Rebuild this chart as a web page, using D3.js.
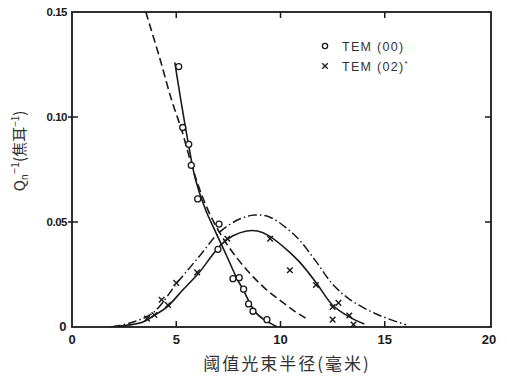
<!DOCTYPE html>
<html><head><meta charset="utf-8">
<script src="https://cdn.jsdelivr.net/npm/d3@7"></script>
<style>
html,body{margin:0;padding:0;background:#fff;}
svg{display:block;}
</style></head>
<body><svg id="c" width="507" height="379"></svg>
<script>
// ---- data ----
const xTicks = [0, 5, 10, 15, 20];
const xTickLabels = ["0", "5", "10", "15", "20"];
const yTicks = [0, 0.05, 0.10, 0.15];
const yTickLabels = ["0", "0.05", "0.10", "0.15"];
const xLabel = "阈值光束半径(毫米)";
const legendLabels = ["TEM (00)", "TEM (02)"];

// TEM(00) measured points (circles)
const tem00X = [5.12, 5.31, 5.6, 5.72, 6.03, 7.05, 7.0, 7.72, 8.02, 8.23, 8.47, 8.68, 9.35];
const tem00Y = [0.124, 0.095, 0.087, 0.077, 0.061, 0.049, 0.037, 0.023, 0.0235, 0.018, 0.011, 0.0075, 0.0035];
// TEM(02) measured points (crosses)
const tem02X = [3.6, 3.95, 4.3, 4.6, 5.0, 6.0, 7.45, 9.5, 10.45, 11.7, 12.5, 12.78, 12.5, 13.3, 13.5];
const tem02Y = [0.004, 0.0057, 0.013, 0.0105, 0.021, 0.026, 0.042, 0.042, 0.027, 0.020, 0.0095, 0.0115, 0.0035, 0.0055, 0.0012];

// fitted curve for TEM(00) (solid)
const fit00X = [4.93, 5.22, 5.55, 5.93, 6.41, 6.89, 7.40, 7.90, 8.25, 8.55, 8.85, 9.30, 9.86];
const fit00Y = [0.126, 0.108, 0.089, 0.070, 0.0557, 0.0452, 0.0343, 0.0233, 0.0170, 0.0110, 0.0065, 0.0030, 0.0];
// theory curve for TEM(00) (dashed)
const th00X = [3.54, 4.21, 4.78, 5.26, 5.74, 6.22, 6.70, 7.18, 7.80, 8.52, 9.23, 9.95, 10.67, 11.2];
const th00Y = [0.150, 0.128, 0.108, 0.0938, 0.0771, 0.0629, 0.0519, 0.0433, 0.0343, 0.0257, 0.0186, 0.0129, 0.0076, 0.0043];
// fitted curve for TEM(02) (solid)
const fit02X = [1.82, 2.78, 3.40, 3.97, 4.55, 5.31, 6.12, 6.70, 7.18, 7.70, 8.37, 8.90, 9.47, 10.43, 10.91, 11.72, 12.49, 13.30, 14.02];
const fit02Y = [0.0, 0.001, 0.0024, 0.0057, 0.0095, 0.0176, 0.0262, 0.0338, 0.0395, 0.0433, 0.0457, 0.0457, 0.0433, 0.0357, 0.031, 0.021, 0.0105, 0.0048, 0.0014];
// theory curve for TEM(02) (dash-dot)
const th02X = [1.91, 2.78, 3.88, 5.07, 6.12, 7.08, 8.04, 8.76, 9.47, 10.29, 10.91, 11.72, 12.49, 13.30, 14.59, 16.03];
const th02Y = [0.0, 0.0019, 0.0067, 0.0214, 0.0338, 0.0452, 0.0514, 0.0533, 0.0524, 0.0471, 0.0414, 0.031, 0.0205, 0.0133, 0.0062, 0.001];

// ---- drawing ----
const ink = "#1a1a1a";
const svg = d3.select("#c");
const X0 = 72, X1 = 491, Y0 = 327, Y1 = 12;
const x = d3.scaleLinear().domain([0, 20]).range([X0, 489]);
const y = d3.scaleLinear().domain([0, 0.15]).range([Y0, Y1]);

// frame
svg.append("rect").attr("x", X0).attr("y", Y1).attr("width", X1 - X0).attr("height", Y0 - Y1)
  .attr("fill", "none").attr("stroke", ink).attr("stroke-width", 1.8);

// inner ticks
const tk = 6;
const inner = xTicks.filter(v => v > 0 && v < 20);
svg.append("g").selectAll("line").data(inner).join("line")
  .attr("x1", d => x(d)).attr("x2", d => x(d)).attr("y1", Y0).attr("y2", Y0 - tk)
  .attr("stroke", ink).attr("stroke-width", 1.5);
svg.append("g").selectAll("line").data(inner).join("line")
  .attr("x1", d => x(d)).attr("x2", d => x(d)).attr("y1", Y1).attr("y2", Y1 + tk)
  .attr("stroke", ink).attr("stroke-width", 1.5);
const innerY = yTicks.filter(v => v > 0 && v < 0.15);
svg.append("g").selectAll("line").data(innerY).join("line")
  .attr("x1", X0 - 4).attr("x2", X0 + tk).attr("y1", d => y(d)).attr("y2", d => y(d))
  .attr("stroke", ink).attr("stroke-width", 1.5);
svg.append("g").selectAll("line").data(innerY).join("line")
  .attr("x1", X1).attr("x2", X1 - tk).attr("y1", d => y(d)).attr("y2", d => y(d))
  .attr("stroke", ink).attr("stroke-width", 1.5);

// tick labels
const tf = "'Liberation Sans', Arial, sans-serif";
svg.append("g").selectAll("text").data(xTicks).join("text")
  .attr("x", d => x(d)).attr("y", Y0 + 17)
  .attr("text-anchor", "middle").attr("font-family", tf).attr("font-weight", "bold")
  .attr("font-size", 13).attr("fill", ink)
  .text((d, i) => xTickLabels[i]);
svg.append("g").selectAll("text").data(yTicks).join("text")
  .attr("x", (d) => d === 0 ? X0 - 6 : X0 - 5).attr("y", d => y(d) + 4)
  .attr("text-anchor", "end").attr("font-family", tf).attr("font-weight", "bold")
  .attr("font-size", d => d === 0 ? 13 : 11.5).attr("letter-spacing", -0.5).attr("fill", ink)
  .text((d, i) => yTickLabels[i]);

// axis titles
svg.append("text").attr("x", 287).attr("y", 370).attr("text-anchor", "middle")
  .attr("font-family", "'Noto Sans CJK SC', sans-serif").attr("font-size", 17)
  .attr("letter-spacing", 2).attr("fill", "#333").text(xLabel);
const yl = svg.append("text").attr("transform", "translate(25,151) rotate(-90)")
  .attr("text-anchor", "middle").attr("fill", "#333").attr("font-size", 15)
  .attr("font-family", "'Noto Sans CJK SC', sans-serif");
yl.append("tspan").text("Q");
yl.append("tspan").attr("font-size", 10).attr("dy", 3).text("n");
yl.append("tspan").attr("font-size", 11).attr("dy", -9).text("−1");
yl.append("tspan").attr("dy", 6).text("(焦耳");
yl.append("tspan").attr("font-size", 10).attr("dy", -6).text("−1");
yl.append("tspan").attr("dy", 6).text(")");

// curves
const line = d3.line().x(d => x(d[0])).y(d => y(d[1])).curve(d3.curveCatmullRom.alpha(0.5));
const zip = (a, b) => a.map((v, i) => [v, b[i]]);
svg.append("clipPath").attr("id", "pc").append("rect")
  .attr("x", X0).attr("y", Y1).attr("width", X1 - X0).attr("height", Y0 - Y1);
const g = svg.append("g").attr("clip-path", "url(#pc)");
g.append("path").attr("d", line(zip(fit00X, fit00Y))).attr("fill", "none")
  .attr("stroke", ink).attr("stroke-width", 1.6);
g.append("path").attr("d", line(zip(th00X, th00Y))).attr("fill", "none")
  .attr("stroke", ink).attr("stroke-width", 1.6).attr("stroke-dasharray", "8,4");
g.append("path").attr("d", line(zip(fit02X, fit02Y))).attr("fill", "none")
  .attr("stroke", ink).attr("stroke-width", 1.6);
g.append("path").attr("d", line(zip(th02X, th02Y))).attr("fill", "none")
  .attr("stroke", ink).attr("stroke-width", 1.5).attr("stroke-dasharray", "9,3,1.5,3");

// markers
svg.append("g").selectAll("circle").data(zip(tem00X, tem00Y)).join("circle")
  .attr("cx", d => x(d[0])).attr("cy", d => y(d[1])).attr("r", 3)
  .attr("fill", "#fff").attr("stroke", ink).attr("stroke-width", 1.3);
const cr = 2.8;
const crossPath = d => {
  const cx = x(d[0]), cy = y(d[1]);
  return `M${cx - cr},${cy - cr}L${cx + cr},${cy + cr}M${cx - cr},${cy + cr}L${cx + cr},${cy - cr}`;
};
svg.append("g").selectAll("path").data(zip(tem02X, tem02Y)).join("path")
  .attr("d", crossPath).attr("stroke", ink).attr("stroke-width", 1.4).attr("fill", "none");

// legend
const lg = svg.append("g");
lg.append("circle").attr("cx", 325).attr("cy", 46).attr("r", 2.6)
  .attr("fill", "#fff").attr("stroke", ink).attr("stroke-width", 1.3);
lg.append("path").attr("d", crossPath([x.invert(325), y.invert(66)])).attr("stroke", ink)
  .attr("stroke-width", 1.3);
lg.append("text").attr("x", 342).attr("y", 51).attr("font-family", tf).attr("font-size", 12.5)
  .attr("letter-spacing", 1.3).attr("fill", "#333").text(legendLabels[0]);
const t2 = lg.append("text").attr("x", 342).attr("y", 71).attr("font-family", tf).attr("font-size", 12.5)
  .attr("letter-spacing", 1.3).attr("fill", "#333");
t2.append("tspan").text(legendLabels[1]);
t2.append("tspan").attr("font-size", 8).attr("dy", -5).text("*");
</script></body></html>
